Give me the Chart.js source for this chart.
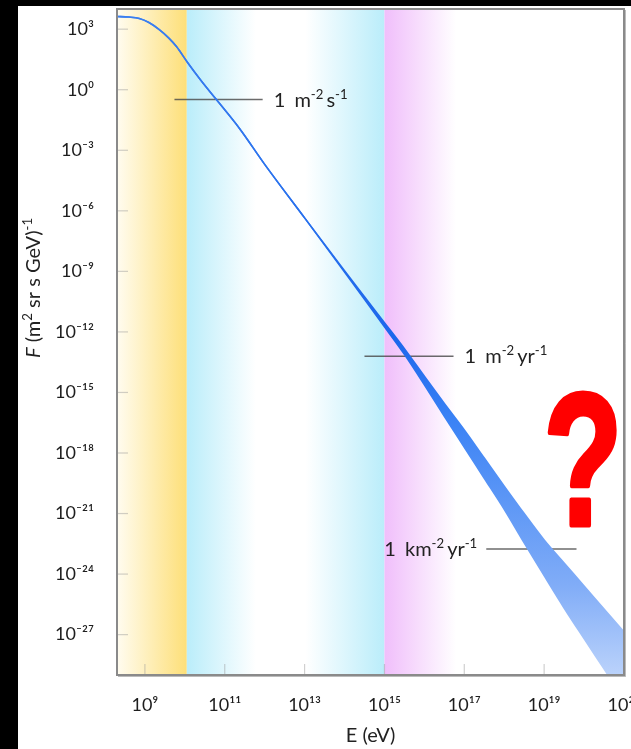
<!DOCTYPE html>
<html><head><meta charset="utf-8">
<script src="https://cdn.jsdelivr.net/npm/chart.js@4"></script>
<style>html,body{margin:0;padding:0;background:#000;overflow:hidden}</style>
</head><body>
<canvas id="c" width="631" height="749"></canvas>
<script>
// ---- data ----
const energies  = [1.91e8, 3.98e8, 7.24e8, 1.26e9, 2.29e9, 3.98e9, 6.17e9, 1.17e10, 2.51e10, 6.17e10, 2.34e11, 1e12, 1e13, 1e14, 3.16e14, 1e15, 3.16e15, 1e16, 3.16e16, 1e17, 3.16e17, 1e18, 3.16e18, 1e19, 3.16e19, 1e20, 3.16e20, 1e21];
const fluxLower = [4.27e3, 3.98e3, 3.39e3, 2.14e3, 9.55e2, 3.63e2, 1.38e2, 2.24e1, 2.95, 3.24e-1, 1.20e-2, 2.00e-4, 4.47e-7, 9.33e-10, 4.17e-11, 1.82e-12, 7.76e-14, 2.40e-15, 6.61e-17, 1.91e-18, 5.62e-20, 1.62e-21, 3.55e-23, 8.32e-25, 2.09e-26, 6.31e-28, 2.00e-29, 6.31e-31];
const fluxUpper = [4.27e3, 3.98e3, 3.39e3, 2.14e3, 9.55e2, 3.63e2, 1.38e2, 2.24e1, 2.95, 3.24e-1, 1.20e-2, 2.00e-4, 4.47e-7, 1.07e-9, 5.50e-11, 2.88e-12, 1.48e-13, 6.31e-15, 2.82e-16, 1.38e-17, 5.62e-19, 2.29e-20, 1.00e-21, 4.90e-23, 3.55e-24, 2.57e-25, 1.86e-26, 1.35e-27];
const xTickValues = [1e9, 1e11, 1e13, 1e15, 1e17, 1e19, 1e21];
const yTickValues = [1e3, 1e0, 1e-3, 1e-6, 1e-9, 1e-12, 1e-15, 1e-18, 1e-21, 1e-24, 1e-27];
const xLimits = [2e8, 1e21];
const yLimits = [1e-29, 1e4];
const refFlux  = [3.24e-1, 6.17e-14, 1.74e-23];
const refFrom  = [5.5e9, 3.16e14, 3.55e17];
const refTo    = [8.9e11, 5.37e16, 6.46e19];
const refLabels = [
  [{t:'1 ',gap:4},{t:'m'},{t:'-2',sup:true,gap:3},{t:'s'},{t:'-1',sup:true}],
  [{t:'1 ',gap:4},{t:'m'},{t:'-2',sup:true,gap:3},{t:'yr'},{t:'-1',sup:true}],
  [{t:'1 ',gap:4},{t:'km'},{t:'-2',sup:true,gap:3},{t:'yr'},{t:'-1',sup:true}]
];
const refLabelSide = ['after', 'after', 'before'];
// energy bands (eV)
const bandEdges = [2e8, 1.12e10, 1e15, 6.3e16];
const xTitle = 'E (eV)';
const yTitleSegs = [{t:'F',italic:true},{t:' (m'},{t:'2',sup:true},{t:' sr s GeV)'},{t:'-1',sup:true}];

// ---- helpers ----
const FAM = "Lato, 'DejaVu Sans', sans-serif";
const SUP = {'0':'⁰','1':'¹','2':'²','3':'³','4':'⁴','5':'⁵','6':'⁶','7':'⁷','8':'⁸','9':'⁹','-':'⁻'};
function pow10Label(v){ const e = Math.round(Math.log10(v)); return '10' + String(e).split('').map(ch=>SUP[ch]).join(''); }

function drawRich(ctx, segs, x, y, align, size, color){
  let total = 0;
  const parts = segs.map(s=>{
    const fs = s.sup ? size*0.66 : size;
    const font = (s.italic?'italic ':'') + fs + 'px ' + FAM;
    ctx.font = font;
    const w = ctx.measureText(s.t).width;
    total += w + (s.gap||0);
    return {s, font, w};
  });
  let cx = align==='right' ? x-total : (align==='center' ? x-total/2 : x);
  ctx.fillStyle = color; ctx.textAlign='left'; ctx.textBaseline='alphabetic';
  parts.forEach(p=>{
    ctx.font = p.font;
    ctx.fillText(p.s.t, cx, y - (p.s.sup ? size*0.40 : 0));
    cx += p.w + (p.s.gap||0);
  });
}

let blueGrad = null;
function blue(ctx){
  const chart = ctx.chart;
  if (!blueGrad){
    const g = chart.ctx.createLinearGradient(0,0,0,749);
    g.addColorStop(0.00,'rgb(60,128,240)');
    g.addColorStop(0.40,'rgb(32,106,236)');
    g.addColorStop(0.45,'rgb(28,102,236)');
    g.addColorStop(0.56,'rgb(58,130,245)');
    g.addColorStop(0.78,'rgb(128,172,247)');
    g.addColorStop(0.90,'rgb(186,210,251)');
    g.addColorStop(1.00,'rgb(190,214,251)');
    blueGrad = g;
  }
  return blueGrad;
}

const decor = {
  id:'decor',
  beforeDraw(chart){
    const c = chart.ctx;
    c.save();
    c.fillStyle='#000'; c.fillRect(0,0,chart.width,chart.height);
    c.fillStyle='#fff'; c.fillRect(18,6,chart.width-18,chart.height-6);
    c.restore();
  },
  beforeDatasetsDraw(chart){
    const c = chart.ctx, a = chart.chartArea, xs = chart.scales.x, ys = chart.scales.y;
    c.save();
    c.beginPath(); c.rect(a.left,a.top,a.right-a.left,a.bottom-a.top); c.clip();
    const px = bandEdges.map(v=>xs.getPixelForValue(v));
    const h = a.bottom-a.top;
    let g = c.createLinearGradient(a.left,0,px[1],0);
    g.addColorStop(0,'rgb(255,252,240)'); g.addColorStop(1,'rgb(253,223,120)');
    c.fillStyle=g; c.fillRect(a.left,a.top,px[1]-a.left,h);
    g = c.createLinearGradient(px[1],0,px[2],0);
    g.addColorStop(0,'rgb(186,237,250)'); g.addColorStop(0.35,'rgb(255,255,255)');
    g.addColorStop(0.60,'rgb(255,255,255)'); g.addColorStop(1,'rgb(186,237,250)');
    c.fillStyle=g; c.fillRect(px[1],a.top,px[2]-px[1],h);
    g = c.createLinearGradient(px[2],0,px[3],0);
    g.addColorStop(0,'rgb(240,190,251)'); g.addColorStop(1,'rgb(255,255,255)');
    c.fillStyle=g; c.fillRect(px[2],a.top,px[3]-px[2],h);
    c.strokeStyle='rgba(150,150,150,0.45)'; c.lineWidth=1.2;
    yTickValues.forEach(v=>{ const y=ys.getPixelForValue(v); c.beginPath(); c.moveTo(a.left,y); c.lineTo(a.left+11,y); c.stroke(); });
    xTickValues.forEach(v=>{ const x=xs.getPixelForValue(v); c.beginPath(); c.moveTo(x,a.bottom); c.lineTo(x,a.bottom-11); c.stroke(); });
    c.restore();
  },
  afterDatasetsDraw(chart){
    const c = chart.ctx, a = chart.chartArea, xs = chart.scales.x, ys = chart.scales.y;
    c.save();
    c.strokeStyle='#8a8a8a'; c.lineWidth=2;
    c.strokeRect(a.left,a.top,a.right-a.left,a.bottom-a.top);
    c.strokeStyle='rgba(120,120,120,0.5)'; c.lineWidth=1;
    c.beginPath(); c.moveTo(a.right+1.5,a.top+1); c.lineTo(a.right+1.5,a.bottom+1.5); c.lineTo(a.left+1,a.bottom+1.5); c.stroke();
    refLabels.forEach((segs,i)=>{
      const y = ys.getPixelForValue(refFlux[i]) + 7;
      if (refLabelSide[i]==='after') drawRich(c, segs, xs.getPixelForValue(refTo[i]) + 11, y, 'left', 20, '#222');
      else drawRich(c, segs, xs.getPixelForValue(refFrom[i]) - 9, y, 'right', 20, '#222');
    });
    c.save();
    c.translate(40, 288); c.rotate(-Math.PI/2);
    drawRich(c, yTitleSegs, 0, 0, 'center', 20, '#222');
    c.restore();
    c.save();
    c.translate(xs.getPixelForValue(1.0e20)-1, ys.getPixelForValue(1e-21)+11);
    c.scale(0.68,1);
    c.fillStyle='#ff0000'; c.strokeStyle='#ff0000'; c.lineWidth=5; c.lineJoin='round';
    c.font="bold 190px 'Liberation Sans', Arial, sans-serif";
    c.textAlign='center'; c.textBaseline='alphabetic';
    c.fillText('?',0,0); c.strokeText('?',0,0);
    c.restore();
    c.restore();
  }
};

const bandLower = energies.map((e,i)=>({x:e,y:fluxLower[i]}));
const bandUpper = energies.map((e,i)=>({x:e,y:fluxUpper[i]}));
const refSets = refFlux.map((f,i)=>({
  data:[{x:refFrom[i],y:f},{x:refTo[i],y:f}],
  borderColor:'rgba(70,70,70,0.8)', borderWidth:1.5, pointRadius:0, fill:false
}));

new Chart(document.getElementById('c'), {
  type:'line',
  data:{ datasets:[
    {data:bandLower, borderColor:blue, backgroundColor:blue, borderWidth:1.6, pointRadius:0, fill:false, cubicInterpolationMode:'monotone'},
    {data:bandUpper, borderColor:blue, backgroundColor:blue, borderWidth:1.6, pointRadius:0, fill:'-1', cubicInterpolationMode:'monotone'},
    ...refSets
  ]},
  options:{
    responsive:false, animation:false, devicePixelRatio:1,
    layout:{padding:{left:18, top:9, right:7, bottom:0}},
    plugins:{legend:{display:false}, tooltip:{enabled:false}},
    scales:{
      x:{ type:'logarithmic', min:xLimits[0], max:xLimits[1], bounds:'data',
        grid:{display:false}, border:{display:false},
        afterBuildTicks:s=>{ s.ticks = xTickValues.map(v=>({value:v})); },
        afterFit:s=>{ s.height = 74; s.paddingLeft=0; s.paddingRight=0; },
        ticks:{ autoSkip:false, maxRotation:0, padding:11, color:'#1e1e1e', font:{family:FAM, size:18}, callback:v=>pow10Label(v) },
        title:{ display:true, text:xTitle, color:'#222', font:{family:FAM, size:20}, padding:{top:2,bottom:1} }
      },
      y:{ type:'logarithmic', min:yLimits[0], max:yLimits[1], bounds:'data',
        grid:{display:false}, border:{display:false},
        afterBuildTicks:s=>{ s.ticks = yTickValues.map(v=>({value:v})); },
        afterFit:s=>{ s.width = 99; s.paddingTop=0; s.paddingBottom=0; },
        ticks:{ autoSkip:false, padding:15, color:'#1e1e1e', font:{family:FAM, size:18}, callback:v=>pow10Label(v) }
      }
    }
  },
  plugins:[decor]
});
</script>
</body></html>
